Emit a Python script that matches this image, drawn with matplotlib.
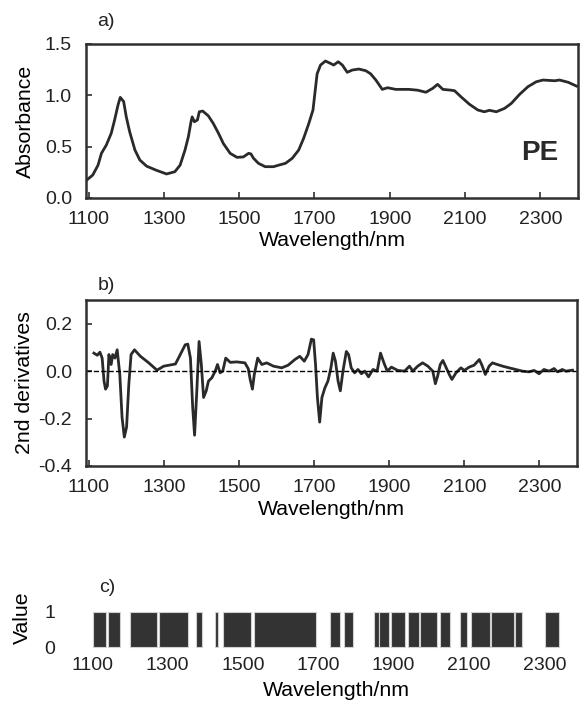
import matplotlib
matplotlib.use('Agg')
from matplotlib import pyplot as plt

plt.rcParams['font.family'] = ['Liberation Sans', 'DejaVu Sans']

# a) absorbance spectrum of PE
wl_a = [1095, 1111, 1125, 1134, 1147, 1160, 1169, 1178, 1184, 1193, 1200, 1209, 1223, 1236,
        1254, 1280, 1307, 1329, 1343, 1356, 1365, 1372, 1375, 1381, 1389, 1394, 1403, 1418,
        1431, 1445, 1458, 1476, 1494, 1511, 1525, 1531, 1538, 1551, 1569, 1591, 1605, 1623,
        1641, 1658, 1671, 1685, 1696, 1703, 1707, 1716, 1729, 1743, 1751, 1763, 1774, 1787,
        1800, 1818, 1836, 1849, 1863, 1880, 1894, 1916, 1951, 1974, 1996, 2014, 2027, 2041,
        2063, 2072, 2089, 2112, 2134, 2151, 2165, 2183, 2205, 2223, 2245, 2267, 2289, 2307,
        2338, 2351, 2374, 2396]
absorb = [0.175, 0.224, 0.32, 0.435, 0.516, 0.63, 0.76, 0.905, 0.98, 0.94, 0.79, 0.645, 0.467,
          0.37, 0.31, 0.27, 0.234, 0.256, 0.32, 0.467, 0.597, 0.743, 0.79, 0.743, 0.76, 0.84,
          0.847, 0.80, 0.727, 0.63, 0.53, 0.435, 0.396, 0.40, 0.435, 0.43, 0.387, 0.338, 0.305,
          0.305, 0.32, 0.338, 0.387, 0.467, 0.58, 0.727, 0.857, 1.083, 1.21, 1.295, 1.334,
          1.31, 1.295, 1.327, 1.295, 1.224, 1.246, 1.256, 1.24, 1.21, 1.149, 1.058, 1.074,
          1.058, 1.058, 1.05, 1.03, 1.068, 1.107, 1.058, 1.05, 1.045, 0.986, 0.912, 0.857,
          0.84, 0.854, 0.84, 0.873, 0.922, 1.01, 1.084, 1.132, 1.149, 1.142, 1.149, 1.127,
          1.09]

# b) second derivative
wl_b = [1114, 1123, 1130, 1136, 1141, 1145, 1150, 1154, 1160, 1164, 1170, 1176, 1183, 1189,
        1195, 1201, 1207, 1213, 1222, 1238, 1260, 1282, 1300, 1331, 1344, 1357, 1364, 1371,
        1377, 1382, 1388, 1394, 1400, 1406, 1413, 1419, 1428, 1437, 1443, 1450, 1457, 1465,
        1477, 1494, 1516, 1525, 1530, 1536, 1541, 1550, 1561, 1574, 1592, 1614, 1631, 1649,
        1662, 1674, 1684, 1693, 1699, 1704, 1709, 1715, 1721, 1729, 1737, 1745, 1751, 1757,
        1764, 1770, 1777, 1786, 1792, 1799, 1808, 1817, 1826, 1835, 1845, 1857, 1868, 1877,
        1886, 1895, 1906, 1923, 1941, 1954, 1963, 1976, 1989, 2003, 2016, 2023, 2029, 2036,
        2043, 2050, 2060, 2067, 2078, 2091, 2100, 2113, 2126, 2140, 2147, 2156, 2166, 2175,
        2184, 2202, 2219, 2237, 2255, 2272, 2286, 2299, 2312, 2326, 2339, 2348, 2361, 2370,
        2388]
deriv = [0.076, 0.067, 0.080, 0.055, -0.042, -0.076, -0.063, 0.07, 0.028, 0.07, 0.055, 0.09,
         -0.014, -0.195, -0.278, -0.236, -0.055, 0.07, 0.09, 0.0625, 0.035, 0.004, 0.021, 0.03,
         0.07, 0.111, 0.114, 0.055, -0.153, -0.27, -0.083, 0.125, 0.028, -0.111, -0.083,
         -0.042, -0.028, 0.0, 0.028, -0.007, 0.0, 0.055, 0.037, 0.039, 0.035, 0.01, -0.035,
         -0.076, -0.014, 0.055, 0.028, 0.035, 0.021, 0.014, 0.025, 0.049, 0.0625, 0.042, 0.07,
         0.135, 0.132, 0.028, -0.111, -0.215, -0.111, -0.07, -0.042, 0.014, 0.076, 0.042,
         -0.042, -0.083, 0.0, 0.083, 0.07, 0.014, -0.007, 0.007, -0.011, 0.0, -0.024, 0.007,
         0.0, 0.076, 0.035, 0.0, 0.017, 0.003, 0.0, 0.021, 0.0, 0.021, 0.035, 0.021, 0.0,
         -0.053, -0.021, 0.028, 0.045, 0.021, -0.014, -0.035, -0.007, 0.014, 0.003, 0.017,
         0.025, 0.049, 0.025, -0.014, 0.021, 0.035, 0.03, 0.021, 0.014, 0.007, 0.0, -0.003,
         0.003, -0.011, 0.007, 0.0, 0.011, -0.003, 0.007, 0.0, 0.004]

# c) selected wavelength intervals (value = 1)
sel_start = [1101, 1141, 1199, 1277, 1376, 1427, 1447, 1529, 1730, 1769, 1847, 1860, 1893,
             1938, 1971, 2024, 2075, 2105, 2158, 2223, 2303]
sel_end = [1136, 1173, 1272, 1353, 1391, 1433, 1522, 1695, 1758, 1792, 1860, 1887, 1931,
           1966, 2015, 2050, 2096, 2157, 2220, 2241, 2338]

xticks = [1100, 1300, 1500, 1700, 1900, 2100, 2300]
dark = '#303030'
lab_fs = 15.3

W, H = 583, 704
fig = plt.figure(figsize=(W / 100, H / 100), dpi=100)


def box(l, t, r, b):
    return [l / W, 1 - b / H, (r - l) / W, (b - t) / H]


def style(ax):
    for s in ax.spines.values():
        s.set_color(dark)
        s.set_linewidth(1.8)
    ax.tick_params(direction='in', length=4, width=1.2, color=dark, labelsize=14,
                   labelcolor='#222222')
    ax.tick_params(axis='x', pad=9)
    ax.tick_params(axis='y', pad=10)
    ax.set_xlim(1093, 2400)
    ax.set_xticks(xticks)


# panel a
ax1 = fig.add_axes(box(86, 44, 578, 198))
ax1.plot(wl_a, absorb, color='#2a2a2a', lw=2)
style(ax1)
ax1.set_ylim(0, 1.5)
ax1.set_yticks([0, 0.5, 1.0, 1.5])
ax1.set_yticklabels(['0.0', '0.5', '1.0', '1.5'])
ax1.set_ylabel('Absorbance', fontsize=lab_fs, va='center')
ax1.yaxis.set_label_coords(-0.124, 0.5)
ax1.set_xlabel('Wavelength/nm', fontsize=lab_fs, va='center')
ax1.xaxis.set_label_coords(0.5, -0.279)
ax1.text(0.923, 0.29, 'PE', transform=ax1.transAxes, fontsize=20, fontweight='bold',
         color='#2a2a2a', ha='center', va='center')

# panel b
ax2 = fig.add_axes(box(86, 300, 577, 466))
ax2.plot(wl_b, deriv, color='#2a2a2a', lw=2)
ax2.axhline(0, color='black', lw=1, ls='--')
style(ax2)
ax2.set_ylim(-0.4, 0.3)
ax2.set_yticks([-0.4, -0.2, 0.0, 0.2])
ax2.set_yticklabels(['-0.4', '-0.2', '0.0', '0.2'])
ax2.set_ylabel('2nd derivatives', fontsize=lab_fs, va='center')
ax2.yaxis.set_label_coords(-0.126, 0.5)
ax2.set_xlabel('Wavelength/nm', fontsize=lab_fs, va='center')
ax2.xaxis.set_label_coords(0.5, -0.265)

# panel c
ax3 = fig.add_axes(box(90, 605, 582, 654))
widths = [e - s for s, e in zip(sel_start, sel_end)]
ax3.bar(sel_start, [1] * len(sel_start), width=widths, align='edge', color='#333333',
        edgecolor='#d0d0d0', linewidth=0.8)
ax3.set_xlim(1094, 2400)
ax3.set_ylim(-0.2, 1.2)
ax3.set_xticks(xticks)
ax3.set_yticks([0, 1])
for s in ax3.spines.values():
    s.set_visible(False)
ax3.tick_params(length=0, labelsize=14, labelcolor='#222222')
ax3.tick_params(axis='x', pad=2)
ax3.tick_params(axis='y', pad=25)
ax3.set_ylabel('Value', fontsize=lab_fs, va='center')
ax3.yaxis.set_label_coords(-0.138, 0.75)
ax3.set_xlabel('Wavelength/nm', fontsize=lab_fs, va='center')
ax3.xaxis.set_label_coords(0.5, -0.735)

for lab, x, y in [('a)', 106, 22), ('b)', 106, 285), ('c)', 107, 588)]:
    fig.text(x / W, 1 - y / H, lab, fontsize=14, ha='center', va='center', color='#222222')

fig.savefig('out.png', dpi=100)
